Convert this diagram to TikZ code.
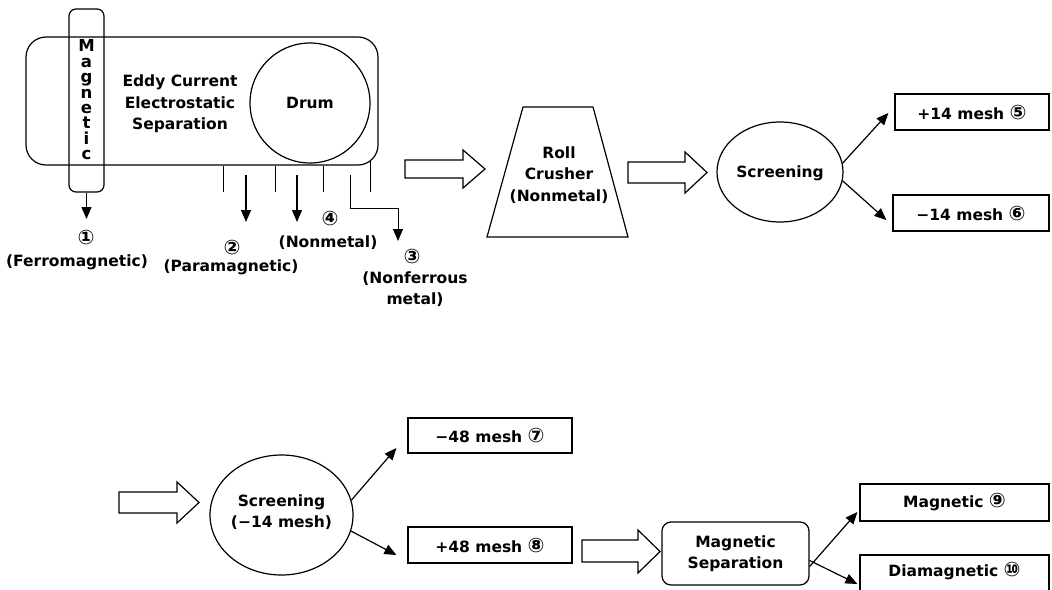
\documentclass[tikz,border=0pt]{standalone}
\usepackage{fontspec}
\setmainfont{DejaVu Sans}
\newcommand\cnum[1]{{\fontsize{20}{20}\selectfont #1}}
\usetikzlibrary{arrows.meta,shapes.geometric}
\begin{document}
\begin{tikzpicture}[x=1pt,y=-1pt,
  every node/.style={font=\fontsize{15.5}{21.5}\selectfont\bfseries, inner sep=0pt},
  thin line/.style={line width=1pt},
  arr/.style={line width=1.2pt,-{Triangle[length=12pt,width=10pt]}},
  outbox/.style={draw,line width=1.2pt,rectangle},
  blockarrow/.style={draw,line width=1.2pt,fill=white,line join=miter},
  oval/.style={draw,line width=1.2pt,ellipse},
  ]
\useasboundingbox (0,0) rectangle (1052,589);

% ---------- first separator ----------
\node[draw,line width=1.2pt,rounded corners=20pt,minimum width=352pt,minimum height=128pt] (ecs) at (202,101) {};
\node[draw,line width=1.2pt,rounded corners=7pt,minimum width=35pt,minimum height=183pt] (magbar) at (86.5,100.5) {};
\node[font=\fontsize{16.5}{15.4}\selectfont\bfseries,align=center] (magtext) at (86.5,100) {M\\a\\g\\n\\e\\t\\i\\c};
\node[draw,line width=1.2pt,circle,minimum size=120pt] (drum) at (310,103) {};
\node (drumtext) at (310,103) {Drum};
\node[align=center] (ecstext) at (180,104) {Eddy Current\\Electrostatic\\Separation};

% chute dividers
\draw[thin line] (223,166) -- (223,192);
\draw[thin line] (275,166) -- (275,192);
\draw[thin line] (323,166) -- (323,192);
\draw[thin line] (370,160) -- (370,192);

% outputs
\coordinate (t1) at (86.5,219);
\coordinate (s2) at (246,175);
\coordinate (t2) at (246,222);
\coordinate (s4) at (297,175);
\coordinate (t4) at (297,222);
\coordinate (s3) at (350,175);
\coordinate (t3) at (398,241);
\draw[arr] (magbar.south) -- (t1);
\draw[arr] (s2) -- (t2);
\draw[arr] (s4) -- (t4);
\draw[arr,line width=1pt] (s3) -- (350,208) -- (398,208) -- (t3);

\node (c1) at (86,237) {\cnum{①}};
\node (l1) at (77,262) {(Ferromagnetic)};
\node (c2) at (232,247) {\cnum{②}};
\node (l2) at (231,267) {(Paramagnetic)};
\node (c4) at (330,218) {\cnum{④}};
\node (l4) at (328,243) {(Nonmetal)};
\node (c3) at (412,256) {\cnum{③}};
\node[align=center] (l3) at (415,289) {(Nonferrous\\metal)};

% ---------- block arrow 1 ----------
\draw[blockarrow] (405,160) -- (463,160) -- (463,150) -- (485,169) -- (463,188) -- (463,178) -- (405,178) -- cycle;

% ---------- roll crusher ----------
\coordinate (tr1) at (523,107);
\coordinate (tr2) at (593,107);
\coordinate (tr3) at (628,237);
\coordinate (tr4) at (487,237);
\draw[line width=1.2pt] (tr1) -- (tr2) -- (tr3) -- (tr4) -- cycle;
\node[align=center] (crusher) at (559,175) {Roll\\Crusher\\(Nonmetal)};

% ---------- block arrow 2 ----------
\draw[blockarrow] (628,162) -- (685,162) -- (685,152) -- (707,172.5) -- (685,193) -- (685,183) -- (628,183) -- cycle;

% ---------- screening 1 ----------
\node[oval,minimum width=126pt,minimum height=100pt] (scr1) at (780,172) {};
\node (scr1text) at (780,173) {Screening};
\node[outbox,minimum width=154pt,minimum height=36pt] (p14) at (972,112) {};
\node (p14text) at (972,112) {+14 mesh \cnum{⑤}};
\node[outbox,minimum width=156pt,minimum height=36pt] (m14) at (971,213) {};
\node (m14text) at (971,213) {−14 mesh \cnum{⑥}};
\draw[arr] (scr1.8) -- ([shift={(-6,1)}]p14.west);
\draw[arr] (scr1.-8) -- ([shift={(-6,7)}]m14.west);

% ---------- block arrow 3 ----------
\draw[blockarrow] (119,492) -- (177,492) -- (177,482) -- (199,502.5) -- (177,523) -- (177,513) -- (119,513) -- cycle;

% ---------- screening 2 ----------
\node[oval,minimum width=143pt,minimum height=120pt] (scr2) at (281.5,515) {};
\node[align=center] (scr2text) at (281.5,512) {Screening\\(−14 mesh)};
\node[outbox,minimum width=164pt,minimum height=35pt] (m48) at (490,435.5) {};
\node (m48text) at (490,435.5) {−48 mesh \cnum{⑦}};
\node[outbox,minimum width=164pt,minimum height=36pt] (p48) at (490,545) {};
\node (p48text) at (490,545) {+48 mesh \cnum{⑧}};
\draw[arr] (scr2.12) -- ([shift={(-11,12.5)}]m48.west);
\draw[arr] (scr2.-13) -- ([shift={(-11,10)}]p48.west);

% ---------- block arrow 4 ----------
\draw[blockarrow] (582,540) -- (638,540) -- (638,530) -- (660,551.5) -- (638,573) -- (638,562) -- (582,562) -- cycle;

% ---------- magnetic separation ----------
\node[draw,line width=1.2pt,rounded corners=9pt,minimum width=147pt,minimum height=63pt,align=center] (magsep) at (735.5,553.5) {Magnetic\\Separation};
\node[outbox,minimum width=189pt,minimum height=37pt] (mag9) at (954.5,502.5) {};
\node (mag9text) at (954.5,502.5) {Magnetic \cnum{⑨}};
\node[outbox,minimum width=189pt,minimum height=40pt] (dia) at (954.5,575) {};
\node (diatext) at (954.5,571) {Diamagnetic \cnum{⑩}};
\draw[arr] ([yshift=-13pt]magsep.east) -- ([shift={(-2,9.5)}]mag9.west);
\draw[arr] ([yshift=-7pt]magsep.east) -- ([shift={(-2,9)}]dia.west);
\end{tikzpicture}
\end{document}
